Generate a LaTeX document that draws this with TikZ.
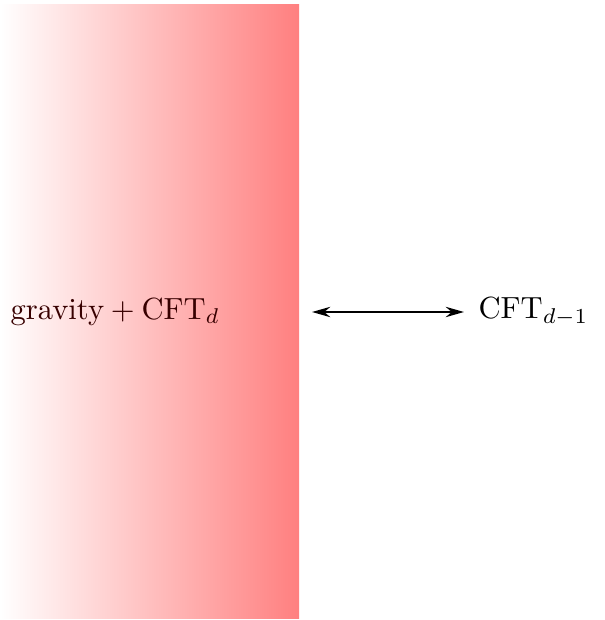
\documentclass[tikz,border=0pt]{standalone}
\usetikzlibrary{arrows.meta}
\definecolor{labeldark}{rgb}{0.22,0,0}
\begin{document}
\begin{tikzpicture}[x=0.327pt,y=0.327pt,
  lbl/.style={inner sep=0pt,anchor=west},
  duality/.style={{Stealth[length=6pt,width=3.4pt,inset=2pt]}-{Stealth[length=6pt,width=3.4pt,inset=2pt]},line width=0.55pt}]
\useasboundingbox (0,0) rectangle (605,-620);
\shade[left color=white,right color=red!50] (0,-4) rectangle (299,-618);
\node[lbl,text=labeldark] (bulk) at (10,-312) {gravity${}+\mathrm{CFT}_d$};
\node[lbl] (bdy) at (478,-312) {$\mathrm{CFT}_{d-1}$};
\coordinate (a1) at (312,-312);
\coordinate (a2) at (464,-312);
\draw[duality] (a1) -- (a2);
\end{tikzpicture}
\end{document}
